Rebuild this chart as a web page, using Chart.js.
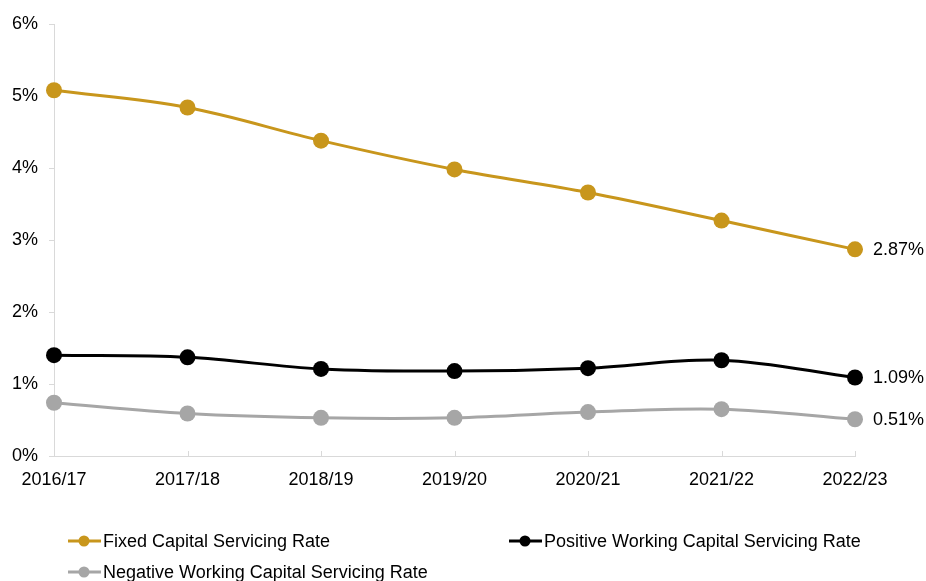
<!DOCTYPE html>
<html lang="en">
<head>
    <meta charset="UTF-8">
    <title>Capital Servicing Rates</title>
    <script src="https://cdn.jsdelivr.net/npm/chart.js"></script>
    <style>
        body { margin: 0; background: #fff; }
    </style>
</head>
<body>
    <canvas id="chart" width="926" height="581"></canvas>
    <script>
        const years = ['2016/17', '2017/18', '2018/19', '2019/20', '2020/21', '2021/22', '2022/23'];
        const fixedRate = [5.08, 4.84, 4.38, 3.98, 3.66, 3.27, 2.87];
        const positiveRate = [1.40, 1.37, 1.21, 1.18, 1.22, 1.33, 1.09];
        const negativeRate = [0.74, 0.59, 0.53, 0.53, 0.61, 0.65, 0.51];
        const yTicks = [0, 1, 2, 3, 4, 5, 6];

        const GOLD = '#C8961C';
        const BLACK = '#000000';
        const GREY = '#A6A6A6';
        const FONT = '"Liberation Sans", Arial, sans-serif';
        const SIZE = 18;

        function series(label, data, color) {
            return {
                label: label,
                data: data,
                borderColor: color,
                backgroundColor: color,
                borderWidth: 3,
                pointRadius: 8,
                pointHoverRadius: 8,
                pointBorderWidth: 0,
                tension: 0.35,
                fill: false
            };
        }

        // small inward tick marks on the category axis
        const xTickMarks = {
            id: 'xTickMarks',
            afterDraw(chart) {
                const ctx = chart.ctx;
                const x = chart.scales.x;
                const bottom = chart.chartArea.bottom;
                ctx.save();
                ctx.strokeStyle = '#D9D9D9';
                ctx.lineWidth = 1;
                years.forEach((_, i) => {
                    if (i === 0) return;
                    const px = Math.round(x.getPixelForValue(i)) + 0.5;
                    ctx.beginPath();
                    ctx.moveTo(px, bottom);
                    ctx.lineTo(px, bottom - 5);
                    ctx.stroke();
                });
                ctx.restore();
            }
        };

        // value label beside the last point of each line
        const endLabels = {
            id: 'endLabels',
            afterDatasetsDraw(chart) {
                const ctx = chart.ctx;
                ctx.save();
                ctx.font = SIZE + 'px ' + FONT;
                ctx.fillStyle = '#000';
                ctx.textAlign = 'left';
                ctx.textBaseline = 'middle';
                chart.data.datasets.forEach((ds, i) => {
                    const pts = chart.getDatasetMeta(i).data;
                    const last = pts[pts.length - 1];
                    const v = ds.data[ds.data.length - 1];
                    ctx.fillText(v.toFixed(2) + '%', last.x + 18, last.y + 1);
                });
                ctx.restore();
            }
        };

        // legend below the chart, line + dot markers
        const bottomLegend = {
            id: 'bottomLegend',
            afterDraw(chart) {
                const ctx = chart.ctx;
                const spots = [[68, 541], [509, 541], [68, 572]];
                ctx.save();
                ctx.font = SIZE + 'px ' + FONT;
                ctx.textBaseline = 'middle';
                chart.data.datasets.forEach((ds, i) => {
                    const [x, y] = spots[i];
                    ctx.strokeStyle = ds.borderColor;
                    ctx.fillStyle = ds.borderColor;
                    ctx.lineWidth = 3;
                    ctx.beginPath();
                    ctx.moveTo(x, y);
                    ctx.lineTo(x + 33, y);
                    ctx.stroke();
                    ctx.beginPath();
                    ctx.arc(x + 16, y, 5.5, 0, Math.PI * 2);
                    ctx.fill();
                    ctx.fillStyle = '#000';
                    ctx.fillText(ds.label, x + 35, y + 1);
                });
                ctx.restore();
            }
        };

        new Chart(document.getElementById('chart'), {
            type: 'line',
            data: {
                labels: years,
                datasets: [
                    series('Fixed Capital Servicing Rate', fixedRate, GOLD),
                    series('Positive Working Capital Servicing Rate', positiveRate, BLACK),
                    series('Negative Working Capital Servicing Rate', negativeRate, GREY)
                ]
            },
            options: {
                responsive: false,
                animation: false,
                layout: { padding: { top: 24, right: 71, left: 0, bottom: 85 } },
                plugins: {
                    legend: { display: false },
                    tooltip: { enabled: false }
                },
                scales: {
                    x: {
                        offset: false,
                        grid: { display: false, drawTicks: false },
                        border: { display: true, color: '#D9D9D9', width: 1 },
                        ticks: {
                            color: '#000',
                            font: { family: FONT, size: SIZE },
                            padding: 13,
                            maxRotation: 0,
                            autoSkip: false
                        },
                        afterFit(s) { s.height = 40; }
                    },
                    y: {
                        min: 0,
                        max: 6,
                        afterBuildTicks(s) { s.ticks = yTicks.map(v => ({ value: v })); },
                        grid: {
                            drawOnChartArea: false,
                            drawTicks: true,
                            tickLength: 5,
                            color: '#D9D9D9'
                        },
                        border: { display: true, color: '#D9D9D9', width: 1 },
                        ticks: {
                            color: '#000',
                            font: { family: FONT, size: SIZE },
                            padding: 11,
                            callback: v => v + '%'
                        },
                        afterFit(s) { s.width = 54; }
                    }
                }
            },
            plugins: [xTickMarks, endLabels, bottomLegend]
        });
    </script>
</body>
</html>
